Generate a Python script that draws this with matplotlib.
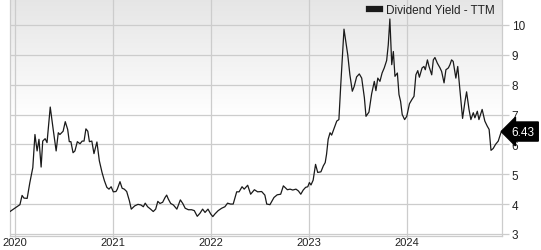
import matplotlib

matplotlib.use("Agg")
import matplotlib.pyplot as plt
import matplotlib.dates as mdates
import numpy as np
import pandas as pd

plt.rcParams["font.family"] = ["Liberation Sans", "DejaVu Sans"]

# Dividend yield (TTM)
dates = [
    "2019-12-14", "2020-01-20", "2020-01-28", "2020-02-04", "2020-02-16", "2020-02-26",
    "2020-03-08", "2020-03-16", "2020-03-24", "2020-03-31", "2020-04-08", "2020-04-14",
    "2020-04-23", "2020-04-30", "2020-05-12", "2020-05-23", "2020-06-03", "2020-06-11",
    "2020-06-17", "2020-06-29", "2020-07-07", "2020-07-16", "2020-07-22", "2020-07-28",
    "2020-08-05", "2020-08-12", "2020-08-21", "2020-08-31", "2020-09-08", "2020-09-15",
    "2020-09-22", "2020-09-29", "2020-10-05", "2020-10-14", "2020-10-22", "2020-11-02",
    "2020-11-11", "2020-11-21", "2020-11-30", "2020-12-09", "2020-12-17", "2020-12-25",
    "2021-01-02", "2021-01-12", "2021-01-17", "2021-01-27", "2021-02-04", "2021-02-12",
    "2021-02-21", "2021-03-03", "2021-03-10", "2021-03-23", "2021-04-04", "2021-04-15",
    "2021-04-24", "2021-05-01", "2021-05-10", "2021-05-21", "2021-05-31", "2021-06-09",
    "2021-06-17", "2021-06-25", "2021-07-05", "2021-07-14", "2021-07-20", "2021-07-26",
    "2021-08-04", "2021-08-14", "2021-08-27", "2021-09-09", "2021-09-18", "2021-09-27",
    "2021-10-09", "2021-10-21", "2021-10-31", "2021-11-11", "2021-11-21", "2021-12-01",
    "2021-12-10", "2021-12-21", "2021-12-31", "2022-01-08", "2022-01-16", "2022-01-28",
    "2022-02-10", "2022-02-22", "2022-03-04", "2022-03-15", "2022-03-25", "2022-04-07",
    "2022-04-16", "2022-04-27", "2022-05-05", "2022-05-18", "2022-05-29", "2022-06-12",
    "2022-06-24", "2022-07-09", "2022-07-21", "2022-07-28", "2022-08-09", "2022-08-24",
    "2022-09-05", "2022-09-18", "2022-09-28", "2022-10-13", "2022-10-23", "2022-11-02",
    "2022-11-14", "2022-11-23", "2022-12-02", "2022-12-11", "2022-12-20", "2022-12-28",
    "2023-01-03", "2023-01-09", "2023-01-17", "2023-01-26", "2023-02-03", "2023-02-15",
    "2023-02-24", "2023-03-03", "2023-03-08", "2023-03-14", "2023-03-21", "2023-03-27",
    "2023-04-06", "2023-04-15", "2023-04-23", "2023-04-30", "2023-05-12", "2023-05-26",
    "2023-06-03", "2023-06-12", "2023-06-19", "2023-06-28", "2023-07-08", "2023-07-17",
    "2023-07-27", "2023-08-02", "2023-08-13", "2023-08-23", "2023-09-02", "2023-09-08",
    "2023-09-15", "2023-09-23", "2023-10-01", "2023-10-09", "2023-10-18", "2023-10-24",
    "2023-10-30", "2023-11-06", "2023-11-12", "2023-11-18", "2023-11-27", "2023-12-03",
    "2023-12-09", "2023-12-15", "2023-12-24", "2024-01-01", "2024-01-11", "2024-01-20",
    "2024-01-28", "2024-02-04", "2024-02-11", "2024-02-17", "2024-02-27", "2024-03-05",
    "2024-03-10", "2024-03-18", "2024-03-24", "2024-04-03", "2024-04-09", "2024-04-15",
    "2024-04-24", "2024-05-04", "2024-05-10", "2024-05-19", "2024-05-26", "2024-06-04",
    "2024-06-10", "2024-06-16", "2024-06-22", "2024-07-02", "2024-07-09", "2024-07-17",
    "2024-07-27", "2024-08-05", "2024-08-11", "2024-08-20", "2024-08-27", "2024-09-05",
    "2024-09-11", "2024-09-20", "2024-09-26", "2024-10-08", "2024-10-18", "2024-10-27",
    "2024-11-03", "2024-11-10", "2024-11-18", "2024-11-27", "2024-12-07", "2024-12-17",
    "2024-12-20",
]
yield_ttm = [
    3.75, 3.98, 4.29, 4.20, 4.19, 4.72,
    5.22, 6.33, 5.78, 6.17, 5.24, 6.11,
    6.19, 6.06, 7.25, 6.50, 5.78, 6.39,
    6.33, 6.44, 6.76, 6.50, 6.09, 6.09,
    5.72, 5.78, 6.09, 6.02, 6.11, 6.11,
    6.52, 6.44, 6.09, 6.11, 5.69, 6.08,
    5.45, 5.06, 4.78, 4.56, 4.50, 4.58,
    4.41, 4.42, 4.50, 4.75, 4.53, 4.50,
    4.42, 4.11, 3.83, 3.94, 3.99, 3.97,
    3.91, 4.03, 3.91, 3.83, 3.75, 3.83,
    4.09, 4.02, 4.06, 4.22, 4.30, 4.17,
    4.02, 3.97, 3.83, 4.14, 4.02, 3.86,
    3.81, 3.81, 3.78, 3.59, 3.69, 3.83,
    3.72, 3.83, 3.67, 3.58, 3.67, 3.78,
    3.86, 3.91, 4.03, 4.00, 4.00, 4.41,
    4.41, 4.58, 4.50, 4.63, 4.33, 4.48,
    4.41, 4.42, 4.30, 4.00, 3.98, 4.22,
    4.31, 4.33, 4.61, 4.48, 4.50, 4.47,
    4.50, 4.44, 4.33, 4.47, 4.56, 4.58,
    4.72, 4.64, 4.80, 5.33, 5.06, 5.08,
    5.28, 5.39, 5.67, 6.17, 6.39, 6.31,
    6.56, 6.78, 6.83, 8.00, 9.86, 9.00,
    8.33, 7.78, 7.94, 8.26, 8.36, 8.22,
    7.56, 6.94, 7.08, 7.69, 8.11, 7.80,
    8.22, 8.11, 8.39, 8.56, 8.81, 9.33,
    10.20, 8.67, 9.11, 8.28, 8.39, 7.67,
    7.44, 7.00, 6.83, 6.94, 7.36, 7.50,
    7.61, 8.33, 8.47, 8.25, 8.56, 8.61,
    8.50, 8.83, 8.61, 8.33, 8.83, 8.91,
    8.72, 8.56, 8.44, 8.06, 8.50, 8.56,
    8.67, 8.83, 8.78, 8.22, 8.61, 7.83,
    6.87, 7.44, 7.76, 7.17, 6.83, 7.06,
    6.89, 7.11, 6.83, 7.17, 6.78, 6.61,
    6.50, 5.80, 5.86, 6.00, 6.11, 6.39,
    6.43,
]
year_ticks = ["2020", "2021", "2022", "2023", "2024"]
value_ticks = [3, 4, 5, 6, 7, 8, 9, 10]
last_label = "6.43"

GRID = "#cccccc"
TEXT = "#222222"

x = pd.to_datetime(dates)
y = np.array(yield_ttm)

fig = plt.figure(figsize=(5.41, 2.51), dpi=100)
ax = fig.add_axes([10 / 541, 1 - 237 / 251, 492 / 541, 237 / 251])

# light grey fade at the top of the plot area, white from mid-height down
fade = np.clip(np.linspace(0, 1, 256) * 2.0, 0, 1).reshape(-1, 1)
top = np.array([0.90, 0.90, 0.90])
rgb = top + (1 - top) * fade[..., None]
ax.imshow(rgb, extent=(0, 1, 0, 1), origin="upper", transform=ax.transAxes,
          aspect="auto", zorder=0)

ax.plot(x, y, color="#1a1a1a", lw=0.9, zorder=3, label="Dividend Yield - TTM")

ax.set_xlim(pd.Timestamp("2019-12-14"), pd.Timestamp("2024-12-21"))
ax.set_ylim(2.93, 10.87)

ax.set_xticks(pd.to_datetime([f"{t}-01-01" for t in year_ticks]))
ax.xaxis.set_major_formatter(mdates.DateFormatter("%Y"))
ax.set_yticks(value_ticks)
ax.yaxis.tick_right()
ax.grid(True, color=GRID, lw=0.9, zorder=1)
ax.set_axisbelow(True)

ax.tick_params(axis="y", length=5, width=0.9, color=GRID, labelsize=8.5,
               labelcolor=TEXT, pad=2)
ax.tick_params(axis="x", length=2, width=0.9, color=GRID, labelsize=8,
               labelcolor=TEXT, pad=-1)
ax.spines["top"].set_visible(False)
for side in ("left", "right", "bottom"):
    ax.spines[side].set_color(GRID)
    ax.spines[side].set_linewidth(0.9)

leg = ax.legend(loc="upper right", bbox_to_anchor=(499 / 541, 1.0),
                bbox_transform=fig.transFigure, borderaxespad=0, frameon=False,
                fontsize=8.5, handlelength=0.9, handletextpad=0.5, labelcolor=TEXT)
for h in leg.legend_handles:
    h.set_linewidth(4.5)

ax.annotate(last_label, xy=(1, y[-1]), xycoords=("axes fraction", "data"),
            xytext=(7, 0), textcoords="offset points", ha="left", va="center",
            fontsize=8.5, color="white", annotation_clip=False,
            bbox=dict(boxstyle="larrow,pad=0.3", fc="black", ec="black"))

fig.savefig("out.png", dpi=100)
